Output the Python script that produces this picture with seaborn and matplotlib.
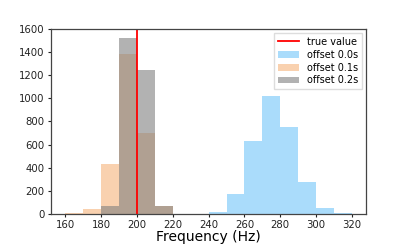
import numpy as np
import pandas as pd
import matplotlib
matplotlib.use("Agg")
import matplotlib.pyplot as plt
import seaborn as sns

# bin edges (Hz)
bin_edges = list(range(160, 330, 10))

# counts per bin (left edge -> count)
blue_left = [240, 250, 260, 270, 280, 290, 300, 310]
blue_counts = [15, 176, 628, 1020, 749, 280, 55, 8]

orange_left = [160, 170, 180, 190, 200, 210]
orange_counts = [8, 43, 435, 1387, 703, 69]

gray_left = [180, 190, 200, 210]
gray_counts = [69, 1522, 1243, 69]

true_value = 200
labels = ["offset 0.0s", "offset 0.1s", "offset 0.2s"]

fig = plt.figure(figsize=(4.07, 2.45), dpi=100)
ax = fig.add_axes([0.125, 0.127, 0.775, 0.755])

series = [
    (blue_left, blue_counts, "lightskyblue", 0.7, labels[0]),
    (orange_left, orange_counts, "sandybrown", 0.5, labels[1]),
    (gray_left, gray_counts, "gray", 0.6, labels[2]),
]
for lefts, counts, color, alpha, lab in series:
    df = pd.DataFrame({"x": np.array(lefts) + 5, "w": counts})
    sns.histplot(data=df, x="x", weights="w", bins=bin_edges, ax=ax,
                 color=color, alpha=alpha, linewidth=0, label=lab)

ax.axvline(true_value, color="red", linewidth=1.3, label="true value")

ax.set_xlim(152, 328)
ax.set_ylim(0, 1600)
ax.set_xticks(range(160, 321, 20))
ax.set_yticks(range(0, 1601, 200))
ax.tick_params(labelsize=7.3, length=2.5, width=0.8, colors="#222222", pad=2)
for s in ax.spines.values():
    s.set_color("#444444")
    s.set_linewidth(0.9)
ax.set_ylabel("")
ax.set_xlabel("Frequency (Hz)", fontsize=10, labelpad=0)

handles, labs = ax.get_legend_handles_labels()
order = [labs.index("true value")] + [labs.index(l) for l in labels]
ax.legend([handles[i] for i in order], [labs[i] for i in order],
          loc="upper right", fontsize=7, frameon=True, borderpad=0.4,
          handlelength=2.2, labelspacing=0.3, handletextpad=0.8,
          borderaxespad=0.4, fancybox=False, framealpha=1, edgecolor="#dddddd")

fig.savefig("out.png", dpi=100)
